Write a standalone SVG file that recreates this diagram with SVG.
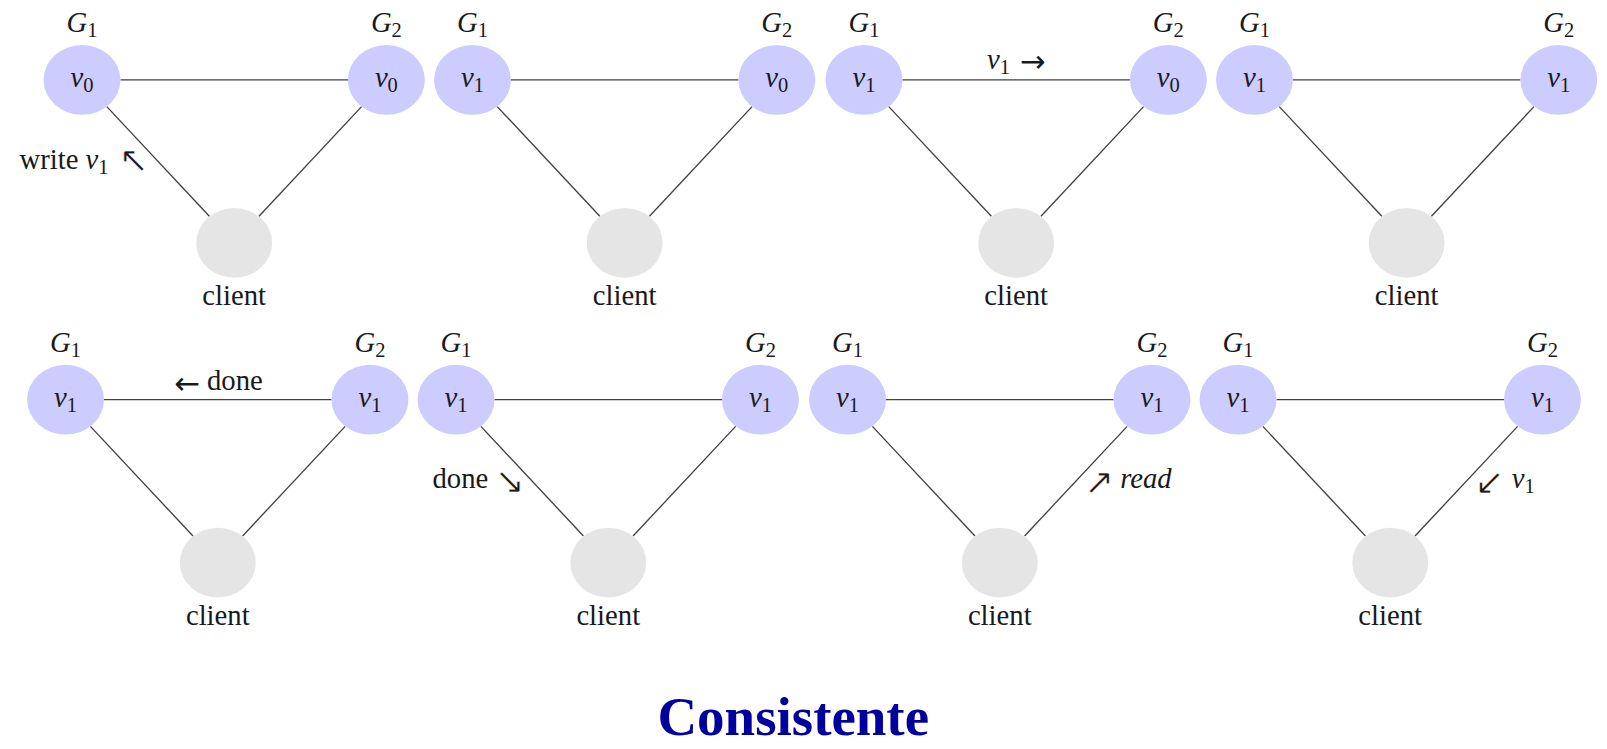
<svg xmlns="http://www.w3.org/2000/svg" width="1607" height="749" viewBox="0 0 1607 749">
<style>
.gn{fill:#ccccff}
.cl{fill:#e5e5e5}
.e{stroke:#404040;stroke-width:1.3;fill:none}
text{font-family:"Liberation Serif",serif;font-size:28px;fill:#1a1a1a}
.m{font-style:italic}
.s{font-size:20px;font-style:normal}
.ar{font-family:"DejaVu Sans",sans-serif;font-size:35px;stroke:#ffffff;stroke-width:0.6px;paint-order:fill}
.ah{font-family:"DejaVu Sans",sans-serif;font-size:30px}
.title{font-family:"Liberation Serif",serif;font-weight:bold;font-size:54px;fill:#00009c}
</style>
<defs>
<g id="edges">
<line class="e" x1="37.5" y1="0" x2="259.5" y2="0"/>
<line class="e" x1="24.2" y1="26" x2="124.3" y2="133"/>
<line class="e" x1="272.8" y1="26" x2="172.7" y2="133"/>
</g>
</defs>
<g transform="scale(1.02487)">

<g id="panel1" transform="translate(80,78)">
<g id="p1-connectors"><use href="#edges"/></g>
<g id="p1-G1"><ellipse class="gn" cx="0" cy="0" rx="37.5" ry="34"/><text x="0" y="7" text-anchor="middle"><tspan class="m">v</tspan><tspan class="s" dy="5">0</tspan></text><text x="0" y="-47" text-anchor="middle"><tspan class="m">G</tspan><tspan class="s" dy="5">1</tspan></text></g>
<g id="p1-G2"><ellipse class="gn" cx="297" cy="0" rx="37.5" ry="34"/><text x="297" y="7" text-anchor="middle"><tspan class="m">v</tspan><tspan class="s" dy="5">0</tspan></text><text x="297" y="-47" text-anchor="middle"><tspan class="m">G</tspan><tspan class="s" dy="5">2</tspan></text></g>
<g id="p1-client"><ellipse class="cl" cx="148.5" cy="159" rx="37" ry="34"/><text x="148.5" y="220" text-anchor="middle">client</text></g>
<g id="p1-label"><text x="-61" y="87">write <tspan class="m">v</tspan><tspan class="s" dy="5">1</tspan></text><text class="ar" x="50.5" y="90" text-anchor="middle">↖</text></g>
</g>

<g id="panel2" transform="translate(461,78)">
<g id="p2-connectors"><use href="#edges"/></g>
<g id="p2-G1"><ellipse class="gn" cx="0" cy="0" rx="37.5" ry="34"/><text x="0" y="7" text-anchor="middle"><tspan class="m">v</tspan><tspan class="s" dy="5">1</tspan></text><text x="0" y="-47" text-anchor="middle"><tspan class="m">G</tspan><tspan class="s" dy="5">1</tspan></text></g>
<g id="p2-G2"><ellipse class="gn" cx="297" cy="0" rx="37.5" ry="34"/><text x="297" y="7" text-anchor="middle"><tspan class="m">v</tspan><tspan class="s" dy="5">0</tspan></text><text x="297" y="-47" text-anchor="middle"><tspan class="m">G</tspan><tspan class="s" dy="5">2</tspan></text></g>
<g id="p2-client"><ellipse class="cl" cx="148.5" cy="159" rx="37" ry="34"/><text x="148.5" y="220" text-anchor="middle">client</text></g>
</g>

<g id="panel3" transform="translate(843,78)">
<g id="p3-connectors"><use href="#edges"/></g>
<g id="p3-G1"><ellipse class="gn" cx="0" cy="0" rx="37.5" ry="34"/><text x="0" y="7" text-anchor="middle"><tspan class="m">v</tspan><tspan class="s" dy="5">1</tspan></text><text x="0" y="-47" text-anchor="middle"><tspan class="m">G</tspan><tspan class="s" dy="5">1</tspan></text></g>
<g id="p3-G2"><ellipse class="gn" cx="297" cy="0" rx="37.5" ry="34"/><text x="297" y="7" text-anchor="middle"><tspan class="m">v</tspan><tspan class="s" dy="5">0</tspan></text><text x="297" y="-47" text-anchor="middle"><tspan class="m">G</tspan><tspan class="s" dy="5">2</tspan></text></g>
<g id="p3-client"><ellipse class="cl" cx="148.5" cy="159" rx="37" ry="34"/><text x="148.5" y="220" text-anchor="middle">client</text></g>
<g id="p3-label"><text x="120" y="-11"><tspan class="m">v</tspan><tspan class="s" dy="5">1</tspan></text><text class="ah" x="164.5" y="-8" text-anchor="middle">→</text></g>
</g>

<g id="panel4" transform="translate(1224,78)">
<g id="p4-connectors"><use href="#edges"/></g>
<g id="p4-G1"><ellipse class="gn" cx="0" cy="0" rx="37.5" ry="34"/><text x="0" y="7" text-anchor="middle"><tspan class="m">v</tspan><tspan class="s" dy="5">1</tspan></text><text x="0" y="-47" text-anchor="middle"><tspan class="m">G</tspan><tspan class="s" dy="5">1</tspan></text></g>
<g id="p4-G2"><ellipse class="gn" cx="297" cy="0" rx="37.5" ry="34"/><text x="297" y="7" text-anchor="middle"><tspan class="m">v</tspan><tspan class="s" dy="5">1</tspan></text><text x="297" y="-47" text-anchor="middle"><tspan class="m">G</tspan><tspan class="s" dy="5">2</tspan></text></g>
<g id="p4-client"><ellipse class="cl" cx="148.5" cy="159" rx="37" ry="34"/><text x="148.5" y="220" text-anchor="middle">client</text></g>
</g>

<g id="panel5" transform="translate(64,390)">
<g id="p5-connectors"><use href="#edges"/></g>
<g id="p5-G1"><ellipse class="gn" cx="0" cy="0" rx="37.5" ry="34"/><text x="0" y="7" text-anchor="middle"><tspan class="m">v</tspan><tspan class="s" dy="5">1</tspan></text><text x="0" y="-47" text-anchor="middle"><tspan class="m">G</tspan><tspan class="s" dy="5">1</tspan></text></g>
<g id="p5-G2"><ellipse class="gn" cx="297" cy="0" rx="37.5" ry="34"/><text x="297" y="7" text-anchor="middle"><tspan class="m">v</tspan><tspan class="s" dy="5">1</tspan></text><text x="297" y="-47" text-anchor="middle"><tspan class="m">G</tspan><tspan class="s" dy="5">2</tspan></text></g>
<g id="p5-client"><ellipse class="cl" cx="148.5" cy="159" rx="37" ry="34"/><text x="148.5" y="220" text-anchor="middle">client</text></g>
<g id="p5-label"><text class="ah" x="118.5" y="-6" text-anchor="middle">←</text><text x="138" y="-9">done</text></g>
</g>

<g id="panel6" transform="translate(445,390)">
<g id="p6-connectors"><use href="#edges"/></g>
<g id="p6-G1"><ellipse class="gn" cx="0" cy="0" rx="37.5" ry="34"/><text x="0" y="7" text-anchor="middle"><tspan class="m">v</tspan><tspan class="s" dy="5">1</tspan></text><text x="0" y="-47" text-anchor="middle"><tspan class="m">G</tspan><tspan class="s" dy="5">1</tspan></text></g>
<g id="p6-G2"><ellipse class="gn" cx="297" cy="0" rx="37.5" ry="34"/><text x="297" y="7" text-anchor="middle"><tspan class="m">v</tspan><tspan class="s" dy="5">1</tspan></text><text x="297" y="-47" text-anchor="middle"><tspan class="m">G</tspan><tspan class="s" dy="5">2</tspan></text></g>
<g id="p6-client"><ellipse class="cl" cx="148.5" cy="159" rx="37" ry="34"/><text x="148.5" y="220" text-anchor="middle">client</text></g>
<g id="p6-label"><text x="-23" y="86">done</text><text class="ar" x="52.5" y="91" text-anchor="middle">↘</text></g>
</g>

<g id="panel7" transform="translate(827,390)">
<g id="p7-connectors"><use href="#edges"/></g>
<g id="p7-G1"><ellipse class="gn" cx="0" cy="0" rx="37.5" ry="34"/><text x="0" y="7" text-anchor="middle"><tspan class="m">v</tspan><tspan class="s" dy="5">1</tspan></text><text x="0" y="-47" text-anchor="middle"><tspan class="m">G</tspan><tspan class="s" dy="5">1</tspan></text></g>
<g id="p7-G2"><ellipse class="gn" cx="297" cy="0" rx="37.5" ry="34"/><text x="297" y="7" text-anchor="middle"><tspan class="m">v</tspan><tspan class="s" dy="5">1</tspan></text><text x="297" y="-47" text-anchor="middle"><tspan class="m">G</tspan><tspan class="s" dy="5">2</tspan></text></g>
<g id="p7-client"><ellipse class="cl" cx="148.5" cy="159" rx="37" ry="34"/><text x="148.5" y="220" text-anchor="middle">client</text></g>
<g id="p7-label"><text class="ar" x="245.5" y="92" text-anchor="middle">↗</text><text class="m" x="266" y="86">read</text></g>
</g>

<g id="panel8" transform="translate(1208,390)">
<g id="p8-connectors"><use href="#edges"/></g>
<g id="p8-G1"><ellipse class="gn" cx="0" cy="0" rx="37.5" ry="34"/><text x="0" y="7" text-anchor="middle"><tspan class="m">v</tspan><tspan class="s" dy="5">1</tspan></text><text x="0" y="-47" text-anchor="middle"><tspan class="m">G</tspan><tspan class="s" dy="5">1</tspan></text></g>
<g id="p8-G2"><ellipse class="gn" cx="297" cy="0" rx="37.5" ry="34"/><text x="297" y="7" text-anchor="middle"><tspan class="m">v</tspan><tspan class="s" dy="5">1</tspan></text><text x="297" y="-47" text-anchor="middle"><tspan class="m">G</tspan><tspan class="s" dy="5">2</tspan></text></g>
<g id="p8-client"><ellipse class="cl" cx="148.5" cy="159" rx="37" ry="34"/><text x="148.5" y="220" text-anchor="middle">client</text></g>
<g id="p8-label"><text class="ar" x="245.5" y="92" text-anchor="middle">↙</text><text x="267" y="86"><tspan class="m">v</tspan><tspan class="s" dy="5">1</tspan></text></g>
</g>

<text class="title" x="774" y="717" text-anchor="middle" textLength="265" lengthAdjust="spacingAndGlyphs">Consistente</text>
</g>
</svg>
